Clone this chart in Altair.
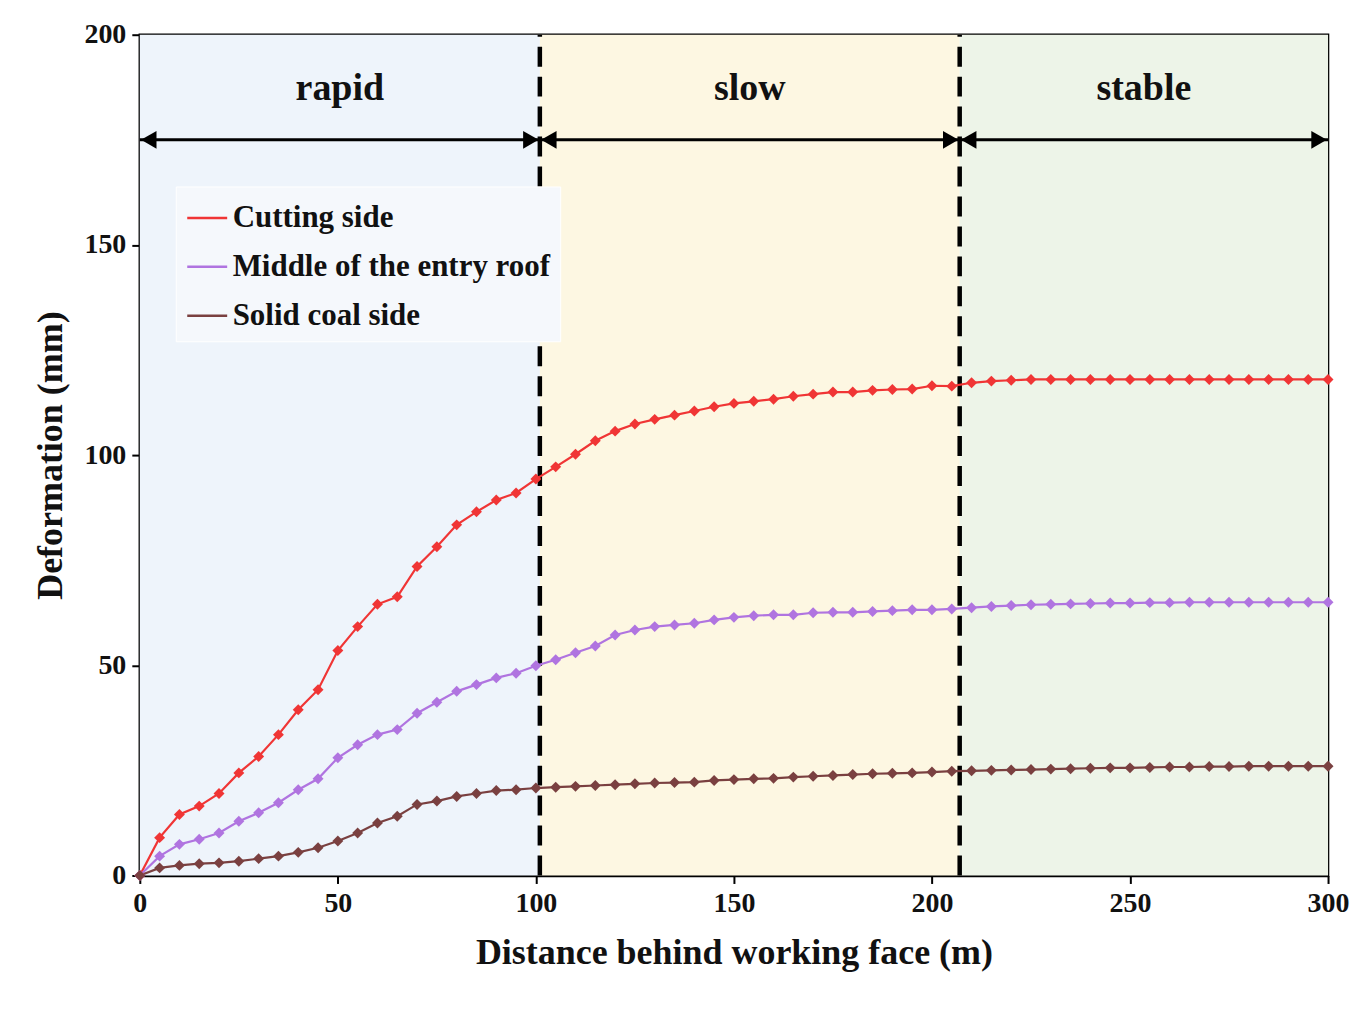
import altair as alt
import pandas as pd

dist = list(range(0, 305, 5))
cutting = [0, 9.0, 14.5, 16.5, 19.5, 24.4, 28.3, 33.5, 39.4, 44.2, 53.5, 59.2, 64.5, 66.3, 73.5, 78.2, 83.4, 86.5, 89.3, 91.0, 94.3,
           97.2, 100.2, 103.4, 105.7, 107.4, 108.5, 109.5, 110.5, 111.5, 112.3, 112.8, 113.3, 114.0, 114.5, 115.0, 115.0, 115.4, 115.6, 115.7, 116.5, 116.4,
           117.2, 117.6, 117.8, 118.0, 118.0, 118.0, 118.0, 118.0, 118.0, 118.0, 118.0, 118.0, 118.0, 118.0, 118.0, 118.0, 118.0, 118.0, 118.0]
middle = [0, 4.6, 7.4, 8.6, 10.1, 12.9, 14.9, 17.3, 20.4, 23.0, 28.0, 31.1, 33.5, 34.7, 38.6, 41.2, 43.8, 45.4, 47.0, 48.1, 49.9,
          51.3, 53.0, 54.6, 57.2, 58.4, 59.2, 59.6, 60.0, 60.8, 61.4, 61.8, 62.0, 62.0, 62.5, 62.6, 62.6, 62.8, 63.0, 63.2, 63.2, 63.4,
          63.7, 64.0, 64.2, 64.4, 64.5, 64.6, 64.7, 64.8, 64.8, 64.9, 64.9, 65.0, 65.0, 65.0, 65.0, 65.0, 65.0, 65.0, 65.0]
solid = [0, 1.8, 2.4, 2.8, 3.0, 3.4, 4.0, 4.6, 5.5, 6.6, 8.2, 10.1, 12.5, 14.1, 16.9, 17.7, 18.8, 19.5, 20.2, 20.4, 20.8,
         21.0, 21.2, 21.4, 21.6, 21.8, 22.0, 22.1, 22.2, 22.6, 22.8, 23.0, 23.1, 23.4, 23.6, 23.8, 24.0, 24.2, 24.3, 24.4, 24.6, 24.8,
         24.9, 25.0, 25.1, 25.2, 25.3, 25.4, 25.5, 25.6, 25.6, 25.7, 25.8, 25.8, 25.9, 25.9, 26.0, 26.0, 26.0, 26.0, 26.0]
series = ["Cutting side", "Middle of the entry roof", "Solid coal side"]
colors = ["#f03535", "#b074e0", "#7a4040"]

zone_names = ["rapid", "slow", "stable"]
zone_start = [0, 101, 207]
zone_end = [101, 207, 300]
zone_fill = ["#eef4fb", "#fdf7e2", "#edf4e8"]
bounds = [101, 207]

rows = []
for name, vals in zip(series, [cutting, middle, solid]):
    for d, v in zip(dist, vals):
        rows.append({"d": d, "v": v, "s": name})
df = pd.DataFrame(rows)
zones = pd.DataFrame({"name": zone_names, "x0": zone_start, "x1": zone_end, "fill": zone_fill})
zones["mid"] = (zones["x0"] + zones["x1"]) / 2
zones["y"] = 175.0
zones["ty"] = 187.0

FONT = "Liberation Serif"
xs = alt.Scale(domain=[0, 300], nice=False)
ys = alt.Scale(domain=[0, 200], nice=False)

bg = alt.Chart(zones).mark_rect(opacity=1).encode(
    x=alt.X("x0:Q", scale=xs), x2="x1", y=alt.datum(0), y2=alt.datum(200),
    color=alt.Color("fill:N", scale=None),
)

lines = alt.Chart(df).mark_line(strokeWidth=2.2, point=alt.OverlayMarkDef(shape="diamond", size=120, filled=True)).encode(
    x=alt.X("d:Q", scale=xs, title="Distance behind working face (m)",
            axis=alt.Axis(values=[0, 50, 100, 150, 200, 250, 300], grid=False, labelFlush=False)),
    y=alt.Y("v:Q", scale=ys, title="Deformation (mm)",
            axis=alt.Axis(values=[0, 50, 100, 150, 200], grid=False)),
    color=alt.Color("s:N", scale=alt.Scale(domain=series, range=colors), sort=series,
                    legend=alt.Legend(title=None, orient="none", legendX=36, legendY=152,
                                      labelFont=FONT, labelFontSize=31, labelFontWeight="bold",
                                      labelColor="#111",
                                      symbolType="stroke", symbolSize=1600, symbolStrokeWidth=2.5,
                                      rowPadding=12, padding=10, strokeColor="#ffffff",
                                      fillColor="#f5f8fc", labelLimit=600)),
)

vlines = alt.Chart(pd.DataFrame({"b": bounds})).mark_rule(color="black", strokeWidth=4.5, strokeDash=[20, 10]).encode(
    x=alt.X("b:Q", scale=xs), y=alt.datum(0), y2=alt.datum(200)
)

arrows = alt.Chart(zones).mark_rule(color="black", strokeWidth=3).encode(
    x=alt.X("x0:Q", scale=xs), x2="x1", y=alt.Y("y:Q", scale=ys)
)
heads_l = alt.Chart(zones).mark_point(shape="triangle-left", filled=True, color="black", size=320, opacity=1).encode(
    x=alt.X("x0:Q", scale=xs), y=alt.Y("y:Q", scale=ys), xOffset=alt.value(9)
)
heads_r = alt.Chart(zones).mark_point(shape="triangle-right", filled=True, color="black", size=320, opacity=1).encode(
    x=alt.X("x1:Q", scale=xs), y=alt.Y("y:Q", scale=ys), xOffset=alt.value(-9)
)
labels = alt.Chart(zones).mark_text(font=FONT, fontSize=38, fontWeight="bold", color="#111", baseline="middle").encode(
    x=alt.X("mid:Q", scale=xs), y=alt.Y("ty:Q", scale=ys), text="name:N"
)

chart = alt.layer(bg, vlines, arrows, heads_l, heads_r, labels, lines).properties(
    width=1190, height=842,
    autosize=alt.AutoSizeParams(type="none"),
    padding={"left": 132, "top": 26, "right": 30, "bottom": 150},
).configure_view(stroke="black", strokeWidth=2.5).configure_axis(
    labelFont=FONT, titleFont=FONT, labelFontSize=28, titleFontSize=36,
    labelFontWeight="bold", titleFontWeight="bold",
    labelColor="#111", titleColor="#111",
    domainColor="black", domainWidth=2.5, tickColor="black", tickWidth=2, tickSize=8,
    labelPadding=6,
).configure_axisX(titlePadding=18).configure_axisY(titlePadding=14)

chart.save("out.html", embed_options={"renderer": "svg", "actions": False})
